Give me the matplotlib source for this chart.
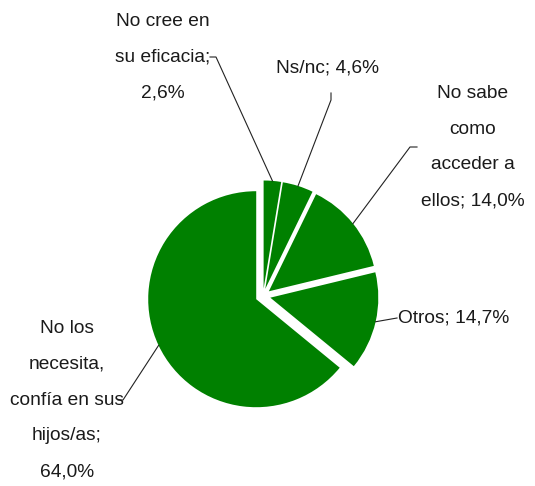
import numpy as np
import matplotlib.pyplot as plt

# data
categories = ["No cree en\nsu eficacia", "Ns/nc", "No sabe\ncomo\nacceder a\nellos",
              "Otros", "No los\nnecesita,\nconfía en sus\nhijos/as"]
separators = [";\n", "; ", "; ", "; ", ";\n"]
values = [2.6, 4.6, 14.0, 14.7, 64.0]

# layout (pixel coords, y downwards)
label_pos = [(163, 57), (328, 68), (473, 147), (398, 318), (67, 400)]
label_ha = ["center", "center", "center", "left", "center"]
leader_start = [[(210, 57), (216, 57)], [(331, 93), (331, 100)], [(417, 147), (410, 147)],
                [(397, 318)], [(118, 400), (123, 400)]]

plt.rcParams['font.family'] = ['Liberation Sans', 'DejaVu Sans']

fig = plt.figure(figsize=(5.35, 4.86), dpi=100)
ax = fig.add_axes([0, 0, 1, 1])

# y axis is flipped, so start at -90 and go "counterclockwise" to look clockwise
wedges, _ = ax.pie(values, startangle=-90, counterclock=True, center=(263, 296),
                   radius=108, explode=[7.5] * len(values), colors=['#008000'] * len(values),
                   wedgeprops=dict(linewidth=0))
ax.set_xlim(0, 535)
ax.set_ylim(486, 0)
ax.set_aspect('equal')
ax.axis('off')

for i, w in enumerate(wedges):
    mid = np.deg2rad((w.theta1 + w.theta2) / 2)
    cx, cy = w.center
    arc = (cx + w.r * np.cos(mid), cy + w.r * np.sin(mid))
    pts = leader_start[i] + [arc]
    xs, ys = zip(*pts)
    ax.plot(xs, ys, color='#222222', lw=0.8)

    val = f"{values[i]:.1f}".replace('.', ',')
    txt = categories[i] + separators[i] + val + "%"
    ax.text(label_pos[i][0], label_pos[i][1], txt, ha=label_ha[i], va='center',
            multialignment='center', fontsize=13.8, color='#1a1a1a', linespacing=2.45)

fig.savefig("out.png", dpi=100)
